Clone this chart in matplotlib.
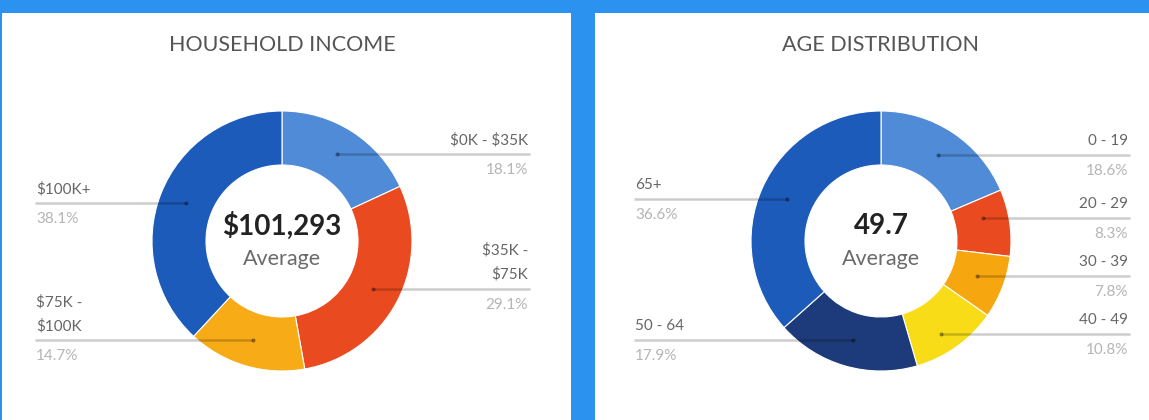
import matplotlib
matplotlib.use("Agg")
import matplotlib.pyplot as plt
from matplotlib.patches import Rectangle
import numpy as np

plt.rcParams["text.parse_math"] = False

# ---------------- data ----------------
income_titles = "HOUSEHOLD INCOME"
income_labels = ["$0K - $35K", "$35K -\n$75K", "$75K -\n$100K", "$100K+"]
income_values = [18.1, 29.1, 14.7, 38.1]
income_colors = ["#4f8bd6", "#ea4a1f", "#f7ab17", "#1c5bb9"]
income_center_value = "$101,293"
income_center_label = "Average"

age_title = "AGE DISTRIBUTION"
age_labels = ["0 - 19", "20 - 29", "30 - 39", "40 - 49", "50 - 64", "65+"]
age_values = [18.6, 8.3, 7.8, 10.8, 17.9, 36.6]
age_colors = ["#4f8bd6", "#ea4a1f", "#f6a60f", "#f7dc17", "#1d3b7a", "#1c5bb9"]
age_center_value = "49.7"
age_center_label = "Average"

W, H = 1149, 420
BG = "#2b93ef"
FONT = ["Lato", "DejaVu Sans"]

fig = plt.figure(figsize=(W / 100, H / 100), dpi=100)
fig.patch.set_facecolor(BG)
ax = fig.add_axes([0, 0, 1, 1])
ax.set_xlim(0, W)
ax.set_ylim(0, H)
ax.axis("off")

def py(y):  # pixel-from-top to data y
    return H - y

# white panels
ax.add_patch(Rectangle((2, 0), 569, H - 13, facecolor="white", edgecolor="none", zorder=0))
ax.add_patch(Rectangle((595, 0), W - 595, H - 13, facecolor="white", edgecolor="none", zorder=0))


def spread(ys, gap):
    ys = list(ys)
    order = np.argsort(ys)
    vals = [ys[i] for i in order]
    for _ in range(200):
        moved = False
        for k in range(len(vals) - 1):
            d = vals[k + 1] - vals[k]
            if d < gap:
                s = (gap - d) / 2
                vals[k] -= s
                vals[k + 1] += s
                moved = True
        if not moved:
            break
    out = [0] * len(ys)
    for j, i in enumerate(order):
        out[i] = vals[j]
    return out


def donut(cx, cy, title, labels, values, colors, big, small, left_x, right_x):
    R, r = 130, 76
    ax.text(cx, py(45), title, ha="center", va="center", fontsize=15.5,
            color="#555555", family=FONT)
    ax.pie(values, colors=colors, startangle=90, counterclock=False,
           center=(cx, py(cy)), radius=R, frame=True,
           wedgeprops=dict(width=R - r, edgecolor="white", linewidth=0.8))
    ax.set_xlim(0, W)
    ax.set_ylim(0, H)
    ax.set_aspect("auto")
    ax.axis("off")
    ax.text(cx, py(cy - 15), big, ha="center", va="center", fontsize=20,
            fontweight="bold", color="#222222", family=FONT)
    ax.text(cx, py(cy + 18), small, ha="center", va="center", fontsize=15.5,
            color="#6a6a6a", family=FONT)

    total = float(sum(values))
    cum = np.cumsum([0] + list(values))[:-1]
    mids = 90 - (cum + np.array(values) / 2) / total * 360
    rm = (R + r) / 2
    px = cx + rm * np.cos(np.radians(mids))
    pyy = cy - rm * np.sin(np.radians(mids))  # pixel y from top
    right_idx = [i for i in range(len(values)) if px[i] >= cx]
    left_idx = [i for i in range(len(values)) if px[i] < cx]
    ly = list(pyy)
    for group in (right_idx, left_idx):
        adj = spread([pyy[i] for i in group], 58)
        for i, v in zip(group, adj):
            ly[i] = v
    for i in range(len(values)):
        y = ly[i]
        nlines = labels[i].count("\n") + 1
        if i in right_idx:
            x0, x1, tx, ha = px[i], right_x + 2, right_x, "right"
        else:
            x0, x1, tx, ha = left_x - 1, px[i], left_x, "left"
        ax.plot([x0, x1], [py(y), py(y)], color="black", alpha=0.2,
                linewidth=1.8, solid_capstyle="butt", zorder=5)
        ax.plot([px[i]], [py(y)], marker="o", markersize=2.0, color="black",
                alpha=0.3, zorder=6)
        for k, line in enumerate(labels[i].split("\n")):
            off = 14 + (nlines - 1 - k) * 24
            ax.text(tx, py(y - off), line, ha=ha, va="center", fontsize=11,
                    color="#666666", family=FONT)
        ax.text(tx, py(y + 16), f"{values[i]:.1f}%", ha=ha, va="center",
                fontsize=11, color="#b5b5b5", family=FONT)


donut(282, 241, income_titles, income_labels, income_values, income_colors,
      income_center_value, income_center_label, 36, 528)
donut(881, 241, age_title, age_labels, age_values, age_colors,
      age_center_value, age_center_label, 635, 1128)

ax.set_xlim(0, W)
ax.set_ylim(0, H)
fig.savefig("out.png", dpi=100, facecolor=BG)
